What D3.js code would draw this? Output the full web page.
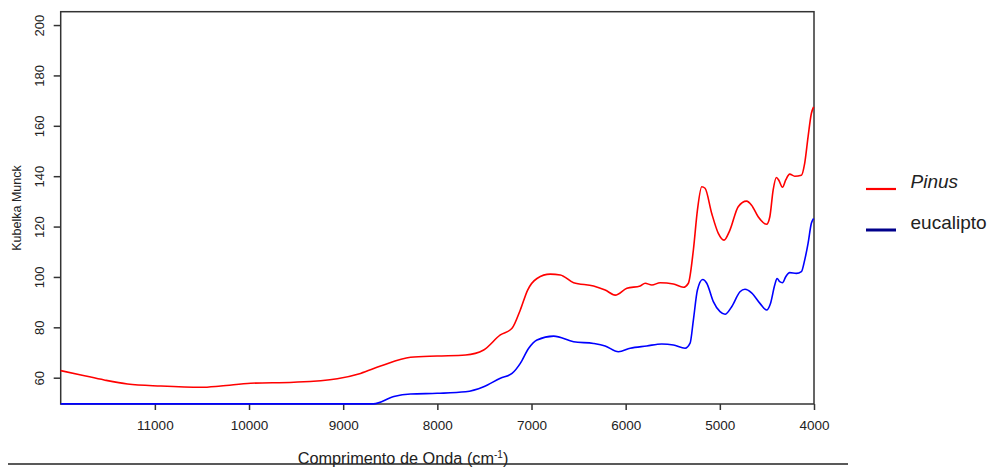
<!DOCTYPE html>
<html>
<head>
<meta charset="utf-8">
<script src="https://cdn.jsdelivr.net/npm/d3@7"></script>
<style>
  body { margin: 0; background: #fff; }
  svg text { font-family: "Liberation Sans", Arial, sans-serif; fill: #222; }
</style>
</head>
<body>
<svg id="chart"></svg>
<script>
// Spectra (wavenumber in cm-1, Kubelka Munck)
const pinusWavenumber = [12000, 11785, 11538, 11290, 10936, 10512, 10300, 9982, 9523, 9063, 8816, 8603, 8285, 8002, 7700,
    7508, 7331, 7207, 7119, 7041, 6942, 6801, 6694, 6553, 6341, 6218, 6111, 5987, 5846, 5793, 5722, 5634, 5493,
    5387, 5334, 5281, 5238, 5192, 5157, 5086, 5016, 4956, 4893, 4805, 4716, 4663, 4593, 4504, 4469, 4434, 4399,
    4371, 4335, 4300, 4258, 4205, 4134, 4099, 4063, 4028, 4004];
const pinusKM = [62.8, 61.1, 59.1, 57.5, 56.7, 56.2, 56.7, 57.8, 58.2, 59.6, 61.7, 64.6, 68.1, 68.6, 69.0,
    71.0, 77.0, 79.6, 86.9, 94.8, 99.4, 101.1, 100.8, 97.7, 96.4, 94.8, 92.8, 95.5, 96.4, 97.5, 96.8, 97.7, 97.2,
    95.9, 97.5, 110.7, 126.5, 135.8, 135.2, 125.2, 117.3, 114.6, 118.6, 127.9, 130.1, 128.5, 123.9, 120.9, 123.9, 134.5, 139.5,
    138.2, 135.6, 138.5, 140.8, 140.0, 140.4, 145.1, 155.6, 164.9, 167.5];

const eucaliptoWavenumber = [12000, 8680, 8462, 8285, 8002, 7700, 7508, 7331, 7207, 7119, 7030, 6942, 6765, 6553,
    6341, 6218, 6077, 5952, 5776, 5617, 5493, 5369, 5316, 5281, 5238, 5182, 5139, 5069, 4998, 4945, 4874, 4786,
    4733, 4663, 4574, 4504, 4462, 4417, 4392, 4364, 4335, 4300, 4258, 4187, 4134, 4099, 4063, 4028, 4004];
const eucaliptoKM = [49.6, 49.6, 52.5, 53.5, 53.8, 54.4, 56.4, 59.8, 61.7, 65.7, 71.7, 75.0, 76.5, 74.3,
    73.6, 72.6, 70.3, 71.7, 72.6, 73.4, 73.0, 71.7, 73.7, 82.9, 94.8, 99.0, 97.5, 90.2, 86.2, 85.2, 88.2, 94.1,
    95.1, 93.7, 89.5, 86.9, 89.5, 96.8, 99.4, 98.1, 97.7, 100.1, 101.7, 101.4, 102.1, 106.7, 113.3, 121.3, 123.2];

const xTicks = [11000, 10000, 9000, 8000, 7000, 6000, 5000, 4000];
const yTicks = [60, 80, 100, 120, 140, 160, 180, 200];

const W = 995, H = 471;
const plot = { left: 60.7, right: 814, top: 11.7, bottom: 404 };

const svg = d3.select("#chart")
    .attr("width", W)
    .attr("height", H);

const x = d3.scaleLinear().domain([12000, 4000]).range([plot.left, plot.right]);
const y = d3.scaleLinear().domain([49.56, 205.3]).range([plot.bottom, plot.top]);

// Frame first, so the flat blue segment sits on the bottom edge
svg.append("rect")
    .attr("x", plot.left).attr("y", plot.top)
    .attr("width", plot.right - plot.left)
    .attr("height", plot.bottom - plot.top)
    .attr("fill", "none")
    .attr("stroke", "#333")
    .attr("stroke-width", 1.5);

// X axis
const xAxis = svg.append("g")
    .attr("transform", `translate(0, ${plot.bottom})`)
    .call(d3.axisBottom(x).tickValues(xTicks).tickSize(6).tickPadding(10).tickFormat(d3.format("d")));
xAxis.select(".domain").remove();
xAxis.selectAll("line").attr("stroke", "#333").attr("stroke-width", 1.5);
xAxis.selectAll("text").style("font-size", "13.5px").attr("fill", "#222");

// Y axis with labels turned
const yAxis = svg.append("g")
    .attr("transform", `translate(${plot.left}, 0)`)
    .call(d3.axisLeft(y).tickValues(yTicks).tickSize(7));
yAxis.select(".domain").remove();
yAxis.selectAll("line").attr("stroke", "#333").attr("stroke-width", 1.5);
yAxis.selectAll("text")
    .attr("transform", "rotate(-90)")
    .attr("x", 0)
    .attr("y", -16.5)
    .attr("dy", 0)
    .style("text-anchor", "middle")
    .style("font-size", "13px")
    .attr("fill", "#222");

// Axis titles
svg.append("text")
    .attr("transform", "translate(21, 208) rotate(-90)")
    .attr("text-anchor", "middle")
    .style("font-size", "12.5px")
    .text("Kubelka Munck");

const xTitle = svg.append("text")
    .attr("x", 403)
    .attr("y", 464)
    .attr("text-anchor", "middle")
    .style("font-size", "16.3px");
xTitle.append("tspan").text("Comprimento de Onda (cm");
xTitle.append("tspan").attr("dy", -6).style("font-size", "10px").text("-1");
xTitle.append("tspan").attr("dy", 6).text(")");

// line under the figure
svg.append("line")
    .attr("x1", 8).attr("x2", 848)
    .attr("y1", 464).attr("y2", 464)
    .attr("stroke", "#222")
    .attr("stroke-width", 1.5);

// Spectra
const line = d3.line()
    .x(d => x(d[0]))
    .y(d => y(d[1]))
    .curve(d3.curveMonotoneX);

svg.append("path")
    .datum(pinusWavenumber.map((w, i) => [w, pinusKM[i]]))
    .attr("d", line)
    .attr("fill", "none")
    .attr("stroke", "#ff0000")
    .attr("stroke-width", 1.6);

svg.append("path")
    .datum(eucaliptoWavenumber.map((w, i) => [w, eucaliptoKM[i]]))
    .attr("d", line)
    .attr("fill", "none")
    .attr("stroke", "#0000ff")
    .attr("stroke-width", 1.6);

// Legend
const legend = [
    { name: "Pinus", color: "#ff0000", italic: true, y: 189 },
    { name: "eucalipto", color: "#00008b", italic: false, y: 230 }
];
legend.forEach(d => {
    svg.append("line")
        .attr("x1", 866).attr("x2", 896)
        .attr("y1", d.y).attr("y2", d.y)
        .attr("stroke", d.color)
        .attr("stroke-width", d.italic ? 2.2 : 3);
    svg.append("text")
        .attr("x", 910.5)
        .attr("y", d.y - 1.5)
        .style("font-size", "19px")
        .style("font-style", d.italic ? "italic" : "normal")
        .attr("fill", "#111")
        .text(d.name);
});
</script>
</body>
</html>
